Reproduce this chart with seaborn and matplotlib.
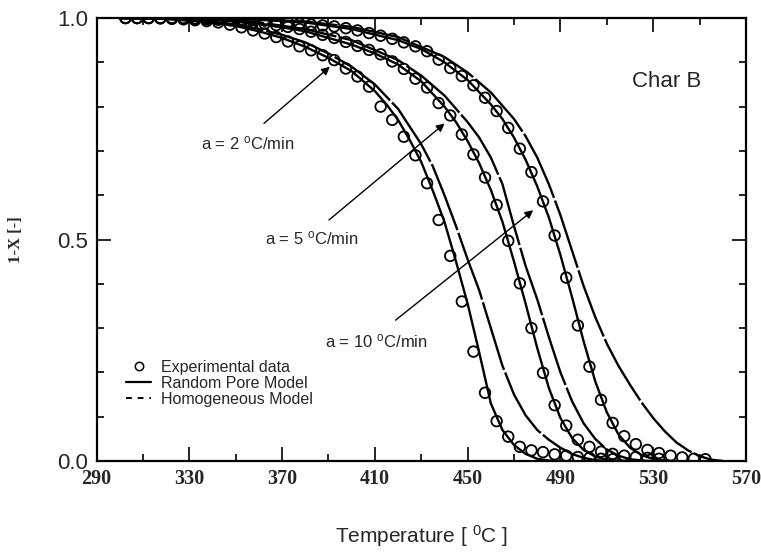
import numpy as np
import pandas as pd
import matplotlib
matplotlib.use("Agg")
import matplotlib.pyplot as plt
import seaborn as sns
from matplotlib.lines import Line2D

# ---------------- data ----------------
T_exp_10 = [302.5 + 5 * i for i in range(43)]
V_exp_10 = [1.0, 1.0, 1.0, 0.999, 0.998, 0.997, 0.995, 0.993, 0.99, 0.985,
            0.979, 0.972, 0.965, 0.957, 0.947, 0.936, 0.927, 0.916, 0.905, 0.886,
            0.868, 0.845, 0.80, 0.77, 0.732, 0.69, 0.627, 0.544, 0.463, 0.36,
            0.247, 0.154, 0.09, 0.055, 0.032, 0.024, 0.02, 0.015, 0.012, 0.009,
            0.007, 0.005, 0.004]

T_exp_5 = [302.5 + 5 * i for i in range(47)]
V_exp_5 = [1.0, 1.0, 1.0, 1.0, 1.0, 0.999, 0.998, 0.997, 0.996, 0.995,
           0.993, 0.99, 0.987, 0.984, 0.98, 0.975, 0.969, 0.962, 0.955, 0.946,
           0.937, 0.928, 0.918, 0.902, 0.885, 0.863, 0.843, 0.808, 0.78, 0.737,
           0.692, 0.64, 0.578, 0.497, 0.401, 0.30, 0.199, 0.126, 0.08, 0.048,
           0.032, 0.021, 0.016, 0.012, 0.009, 0.007, 0.005]

T_exp_2 = [302.5 + 5 * i for i in range(51)]
V_exp_2 = [1.0, 1.0, 1.0, 1.0, 1.0, 1.0, 0.999, 0.999, 0.998, 0.998,
           0.997, 0.996, 0.994, 0.992, 0.99, 0.987, 0.985, 0.983, 0.981, 0.977,
           0.972, 0.966, 0.96, 0.953, 0.945, 0.936, 0.925, 0.906, 0.887, 0.869,
           0.848, 0.82, 0.79, 0.752, 0.705, 0.652, 0.586, 0.509, 0.414, 0.306,
           0.213, 0.138, 0.086, 0.056, 0.038, 0.025, 0.018, 0.012, 0.008, 0.005,
           0.004]

# Random pore model curves
T_rpm_10 = [300, 320, 340, 350, 360, 370, 380, 390, 400, 410, 415, 420, 425, 430,
            435, 440, 445, 450, 455, 460, 465, 470, 475, 480, 485, 490]
V_rpm_10 = [1.0, 0.998, 0.99, 0.982, 0.97, 0.955, 0.935, 0.91, 0.88, 0.835, 0.805,
            0.77, 0.725, 0.675, 0.61, 0.54, 0.45, 0.355, 0.245, 0.13, 0.07, 0.036,
            0.016, 0.005, 0.001, 0.0]
T_rpm_5 = [300, 320, 340, 360, 380, 400, 410, 420, 430, 440, 445, 450, 455, 460,
           465, 470, 475, 480, 485, 490, 495, 500, 505, 510, 515, 520]
V_rpm_5 = [1.0, 0.999, 0.996, 0.988, 0.97, 0.94, 0.92, 0.895, 0.857, 0.8, 0.765,
           0.722, 0.672, 0.612, 0.54, 0.45, 0.355, 0.255, 0.165, 0.097, 0.052,
           0.025, 0.01, 0.003, 0.001, 0.0]
T_rpm_2 = [300, 340, 360, 380, 400, 420, 430, 440, 450, 460, 465, 470, 475, 480,
           485, 490, 495, 500, 505, 510, 515, 520, 525, 530, 535, 540]
V_rpm_2 = [1.0, 0.999, 0.996, 0.99, 0.975, 0.95, 0.93, 0.9, 0.86, 0.805, 0.772,
           0.73, 0.68, 0.62, 0.55, 0.465, 0.37, 0.27, 0.18, 0.11, 0.06, 0.03,
           0.013, 0.005, 0.001, 0.0]

# Homogeneous model curves
T_hom_10 = [300, 320, 340, 350, 360, 370, 380, 390, 400, 410, 420, 430, 435, 440,
            445, 450, 455, 460, 465, 470, 475, 480, 485, 490, 495, 500, 505, 510]
V_hom_10 = [1.0, 0.998, 0.992, 0.985, 0.975, 0.962, 0.945, 0.92, 0.89, 0.85, 0.795,
            0.715, 0.665, 0.6, 0.53, 0.455, 0.385, 0.30, 0.215, 0.15, 0.103, 0.07,
            0.048, 0.03, 0.016, 0.007, 0.002, 0.0]
T_hom_5 = [300, 320, 340, 360, 380, 400, 420, 430, 440, 450, 455, 460, 465, 470,
           475, 480, 485, 490, 495, 500, 505, 510, 515, 520, 525, 530]
V_hom_5 = [1.0, 0.999, 0.997, 0.99, 0.975, 0.95, 0.905, 0.87, 0.825, 0.765, 0.73,
           0.685, 0.625, 0.53, 0.44, 0.365, 0.28, 0.2, 0.135, 0.085, 0.05, 0.026,
           0.012, 0.004, 0.001, 0.0]
T_hom_2 = [300, 340, 360, 380, 400, 420, 440, 450, 460, 470, 475, 480, 485, 490,
           495, 500, 505, 510, 515, 520, 525, 530, 535, 540, 545, 550, 555, 560]
V_hom_2 = [1.0, 0.999, 0.997, 0.992, 0.98, 0.957, 0.912, 0.877, 0.832, 0.772, 0.733,
           0.685, 0.625, 0.555, 0.475, 0.395, 0.325, 0.265, 0.215, 0.172, 0.132,
           0.097, 0.067, 0.042, 0.024, 0.011, 0.003, 0.0]

x_ticks = [290, 330, 370, 410, 450, 490, 530, 570]
y_ticks = [0.0, 0.5, 1.0]
y_tick_labels = ["0.0", "0.5", "1.0"]

# ---------------- figure ----------------
sns.set_style("ticks")
plt.rcParams["font.family"] = ["Liberation Sans", "DejaVu Sans"]
plt.rcParams["mathtext.fontset"] = "custom"
plt.rcParams["mathtext.rm"] = "Liberation Sans"
plt.rcParams["mathtext.it"] = "Liberation Sans"

fig = plt.figure(figsize=(7.61, 5.59), dpi=100)
ax = fig.add_axes([96.5 / 761, 1 - 461 / 559, (746 - 96.5) / 761, (461 - 18) / 559])

exp = pd.concat([
    pd.DataFrame({"T": T_exp_10, "v": V_exp_10, "rate": "10"}),
    pd.DataFrame({"T": T_exp_5, "v": V_exp_5, "rate": "5"}),
    pd.DataFrame({"T": T_exp_2, "v": V_exp_2, "rate": "2"}),
])

hom_style = (0, (30, 1.2))
for T, V, ls in [(T_rpm_10, V_rpm_10, "-"), (T_rpm_5, V_rpm_5, "-"), (T_rpm_2, V_rpm_2, "-"),
                 (T_hom_10, V_hom_10, hom_style), (T_hom_5, V_hom_5, hom_style),
                 (T_hom_2, V_hom_2, hom_style)]:
    sns.lineplot(x=T, y=V, ax=ax, color="black", lw=1.7, linestyle=ls,
                 estimator=None, sort=False, legend=False)

sns.scatterplot(data=exp, x="T", y="v", ax=ax, marker="o", s=58,
                facecolors="none", edgecolor="black", linewidth=1.3,
                legend=False, zorder=3)

ax.set_xlim(290, 570)
ax.set_ylim(0, 1)
ax.set_xticks(x_ticks)
ax.set_xticks(np.arange(310, 570, 40), minor=True)
ax.set_yticks(y_ticks)
ax.set_yticklabels(y_tick_labels)
ax.set_yticks(np.arange(0.1, 1.0, 0.1), minor=True)
ax.tick_params(which="both", direction="in", top=True, right=True, width=1.2, color="black")
ax.tick_params(which="major", length=10)
ax.tick_params(which="minor", length=5)
ax.tick_params(axis="x", which="major", pad=6)
ax.tick_params(axis="y", which="major", pad=6)
for lab in ax.get_xticklabels():
    lab.set_fontfamily("Liberation Serif")
    lab.set_fontweight("bold")
    lab.set_fontsize(14.5)
for lab in ax.get_yticklabels():
    lab.set_fontsize(16)
for sp in ax.spines.values():
    sp.set_linewidth(1.6)
    sp.set_color("black")

ax.set_xlabel(r"Temperature [ $^{\mathrm{0}}$C ]", fontsize=15, labelpad=24)
ax.set_ylabel("1-X [-]", fontsize=12, fontfamily="Liberation Serif",
              fontweight="bold", labelpad=24)

# annotations
fs_a = 12
ax.text(355, 0.718, r"a = 2 $^{\mathrm{o}}$C/min", fontsize=fs_a, ha="center", va="center")
ax.annotate("", xy=(391.5, 0.894), xytext=(361.3, 0.758),
            arrowprops=dict(arrowstyle="-|>", color="black", lw=1.0, mutation_scale=12))
ax.text(382.8, 0.503, r"a = 5 $^{\mathrm{o}}$C/min", fontsize=fs_a, ha="center", va="center")
ax.annotate("", xy=(441, 0.766), xytext=(389.3, 0.54),
            arrowprops=dict(arrowstyle="-|>", color="black", lw=1.0, mutation_scale=12))
ax.text(410.6, 0.271, r"a = 10 $^{\mathrm{o}}$C/min", fontsize=fs_a, ha="center", va="center")
ax.annotate("", xy=(479.2, 0.570), xytext=(418, 0.314),
            arrowprops=dict(arrowstyle="-|>", color="black", lw=1.0, mutation_scale=12))
ax.text(535.7, 0.856, "Char B", fontsize=16, ha="center", va="center")

handles = [
    Line2D([], [], marker="o", ls="none", mfc="none", mec="black", mew=1.1, ms=6),
    Line2D([], [], color="black", lw=1.6),
    Line2D([], [], color="black", lw=1.4, ls=(0, (3, 3))),
]
ax.legend(handles, ["Experimental data", "Random Pore Model", "Homogeneous Model"],
          loc="upper left", bbox_to_anchor=(0.045, 0.228), frameon=False,
          fontsize=11.5, handlelength=1.6, handletextpad=0.6, labelspacing=0.05,
          borderpad=0, borderaxespad=0)

fig.savefig("out.png", dpi=100)
